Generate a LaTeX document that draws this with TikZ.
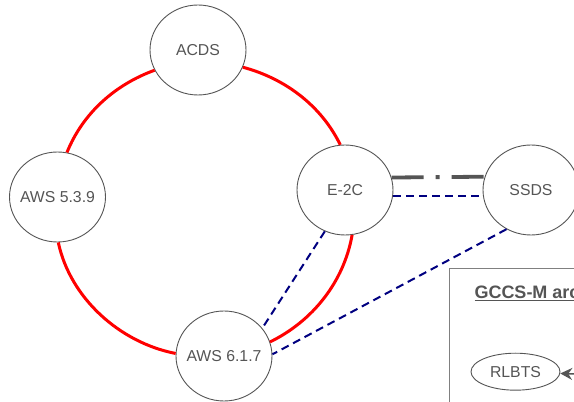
\documentclass[tikz,border=0pt]{standalone}
\usepackage{fontspec}
\setmainfont{Liberation Sans}
\usetikzlibrary{shapes}
\usetikzlibrary{arrows.meta}
\definecolor{textgray}{RGB}{85,85,85}
\definecolor{framegray}{RGB}{128,128,128}
\definecolor{linknavy}{RGB}{0,0,128}
\tikzset{
  sys_node/.style = {ellipse, draw=textgray, fill=white, text=textgray,
    line width=0.9pt, minimum width=96pt, minimum height=90pt,
    inner xsep=-8pt, inner ysep=0pt,
    font=\fontsize{15.8}{18}\selectfont},% systeme du reseau
  leg_node/.style = {sys_node, minimum width=89pt, minimum height=37pt},% noeud de la legende
  ring_link/.style = {red, line width=3pt, looseness=.9},% anneau rouge
  data_link/.style = {linknavy, line width=2pt, dash pattern=on 8pt off 5pt},% lien pointille bleu
  voice_link/.style = {textgray, line width=3.8pt,
    dash pattern=on 32pt off 12pt on 4pt off 12pt},% lien trait-point
  feed_arrow/.style = {-{Stealth[length=12pt, width=12pt, inset=4pt]},
    textgray, line width=1.5pt}% fleche de la legende
}
\begin{document}
\begin{tikzpicture}[x=1pt, y=1pt]
  \useasboundingbox (0,0) rectangle (574,402);
  \clip (0,0) rectangle (574,402);
  \node [sys_node] (acds) at (198,352) {ACDS};
  \node [sys_node] (aws_a) at (57.5,205) {AWS 5.3.9};
  \node [sys_node] (e2c) at (345,212) {E-2C};
  \node [sys_node] (ssds) at (531,212) {SSDS};
  \node [sys_node] (aws_b) at (224,46) {AWS 6.1.7};
  % anneau
  \draw [ring_link] (acds.-21) to[out=-15, in=116] (e2c.96);
  \draw [ring_link] (e2c.-81) to[out=-100, in=26] (aws_b.17);
  \draw [ring_link] (aws_b.177) to[out=169, in=-78] (aws_a.-89);
  \draw [ring_link] (aws_a.78) to[out=68, in=200] (acds.-155);
  % liens
  \draw [data_link] (e2c.-116) -- (aws_b.36);
  \draw [data_link] (ssds.-122) -- (aws_b.2);
  \draw [data_link] (e2c.-7) -- (ssds.187);
  \draw [voice_link] (e2c.15.5) -- (ssds.164.5);
  % legende
  \draw [framegray, line width=1.3pt] (449.5,133.5) rectangle (600,-20);
  \node [anchor=base west, inner sep=0pt, text=textgray,
    font=\fontsize{18}{20}\selectfont\bfseries] (title) at (474.3,103)
    {\underline{GCCS-M arc}};
  \node [leg_node] (rlbts) at (515.5,30.3) {RLBTS};
  \coordinate (feed) at (600,27);
  \draw [feed_arrow] (feed) -- (rlbts);
\end{tikzpicture}
\end{document}
